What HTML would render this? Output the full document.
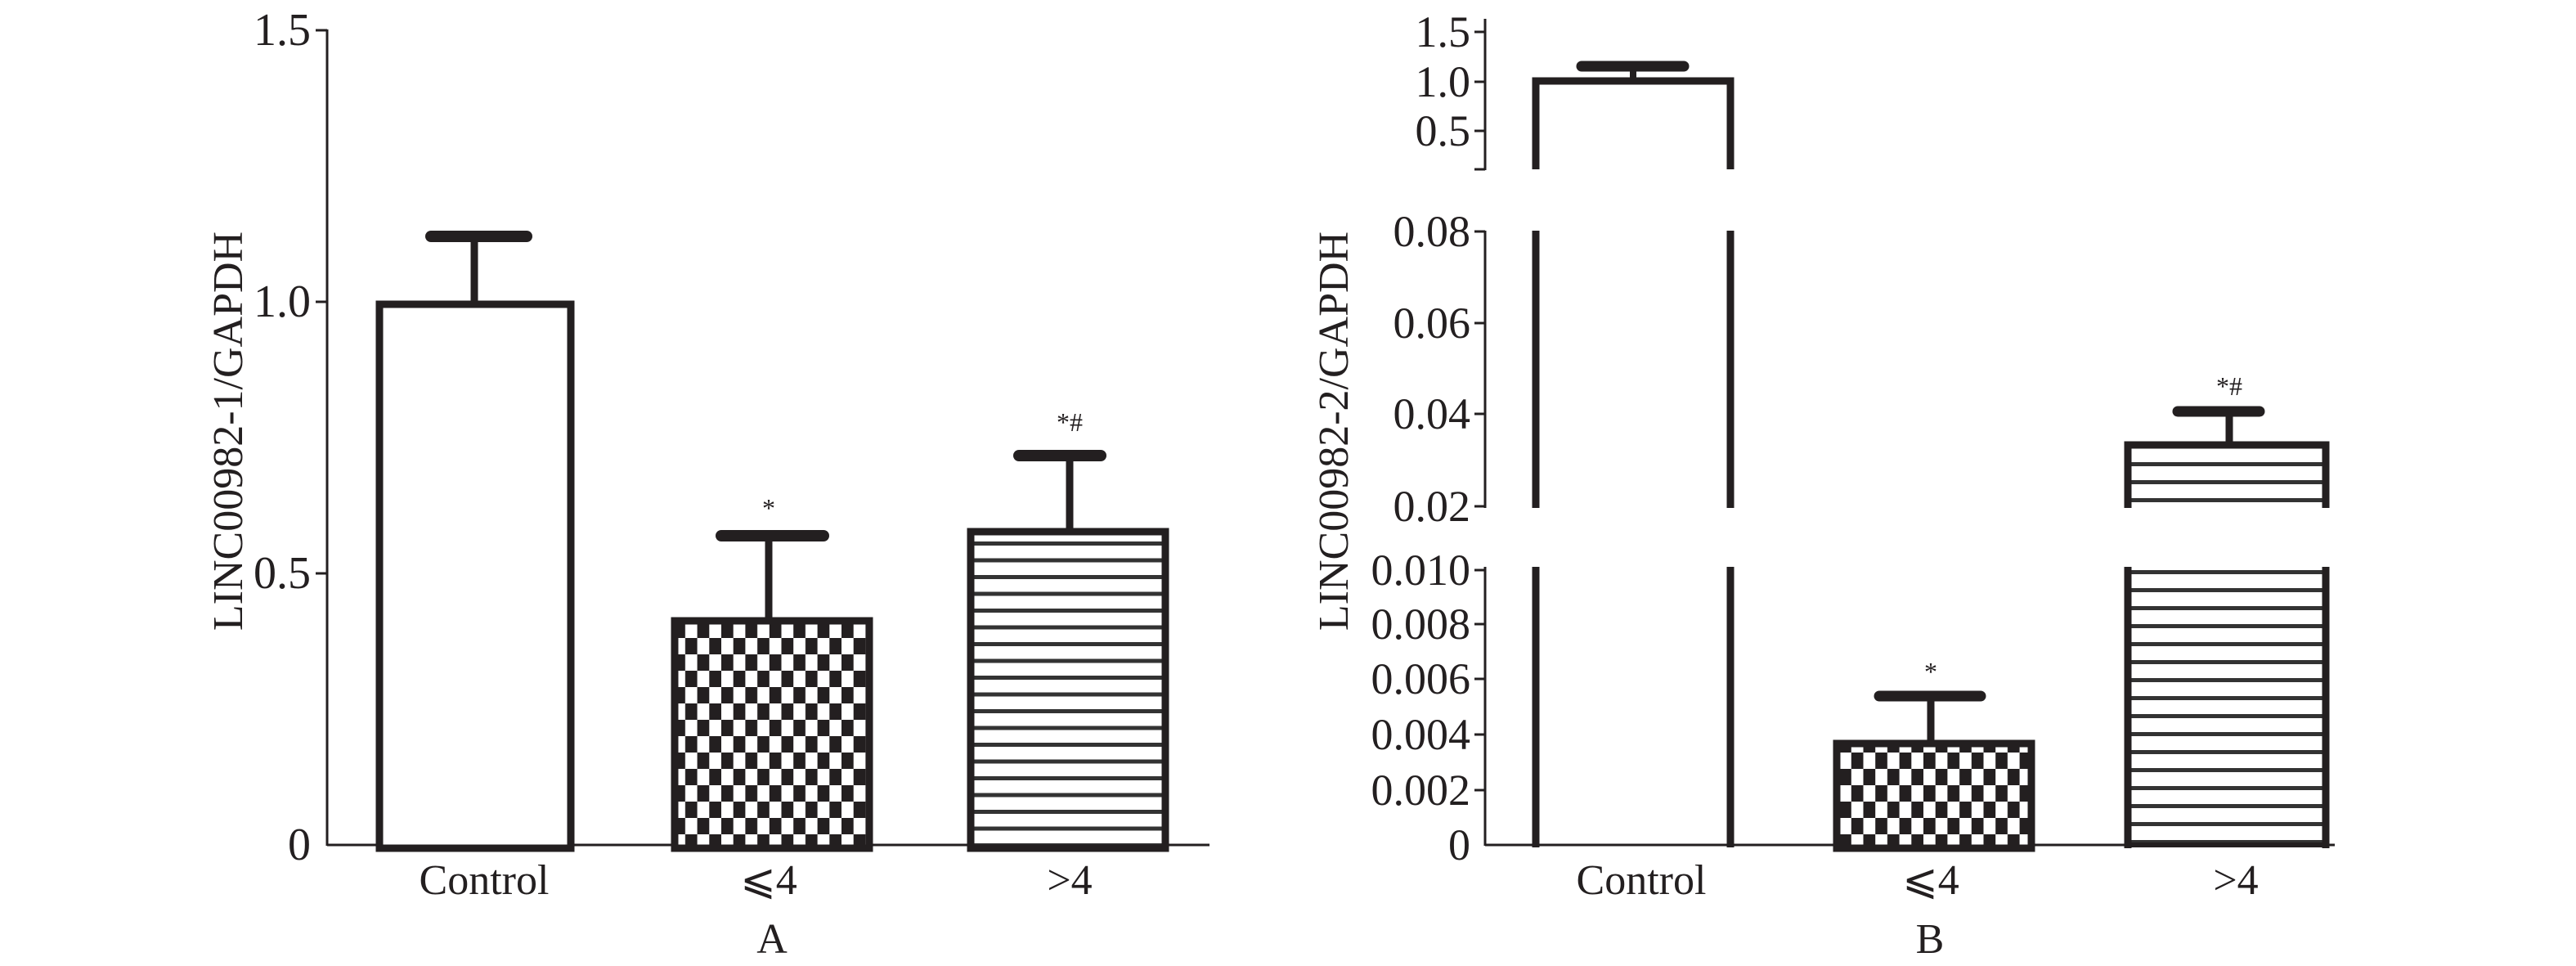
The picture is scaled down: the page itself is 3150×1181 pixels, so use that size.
<!DOCTYPE html>
<html><head><meta charset="utf-8"><style>
html,body{margin:0;padding:0;background:#fff;}
svg{display:block;}
text{font-family:"Liberation Serif",serif;fill:#231f20;}
</style></head><body>
<svg width="3150" height="1181" viewBox="0 0 3150 1181" xmlns="http://www.w3.org/2000/svg">
<defs>
<pattern id="chk" x="0" y="0" width="29.4" height="40" patternUnits="userSpaceOnUse">
<rect width="29.4" height="40" fill="#fff"/>
<rect x="0" y="0" width="14.7" height="20" fill="#231f20"/>
<rect x="14.7" y="20" width="14.7" height="20" fill="#231f20"/>
</pattern>
<pattern id="strA" x="0" y="648" width="20" height="20.5" patternUnits="userSpaceOnUse">
<rect width="20" height="20.5" fill="#fff"/>
<rect y="14" width="20" height="5" fill="#333"/>
</pattern>
<pattern id="strB" x="0" y="0" width="20" height="22" patternUnits="userSpaceOnUse">
<rect width="20" height="22" fill="#fff"/>
<rect y="15" width="20" height="5" fill="#333"/>
</pattern>
</defs>
<g stroke="#231f20" fill="none">
<!-- Panel A axes -->
<line x1="400" y1="36" x2="400" y2="1034" stroke-width="3"/>
<line x1="400" y1="1033" x2="1479" y2="1033" stroke-width="3"/>
<line x1="386" y1="37" x2="400" y2="37" stroke-width="3"/>
<line x1="386" y1="369" x2="400" y2="369" stroke-width="3"/>
<line x1="386" y1="701" x2="400" y2="701" stroke-width="3"/>
<!-- A bars -->
<rect x="464" y="372" width="234" height="665" fill="#fff" stroke-width="9"/>
<line x1="580" y1="289" x2="580" y2="370" stroke-width="9"/>
<line x1="527" y1="289" x2="644" y2="289" stroke-width="14" stroke-linecap="round"/>
<rect x="825" y="759" width="238" height="278" fill="url(#chk)" stroke-width="9"/>
<line x1="940" y1="655" x2="940" y2="757" stroke-width="9"/>
<line x1="882" y1="655" x2="1007" y2="655" stroke-width="14" stroke-linecap="round"/>
<rect x="1187" y="650" width="238" height="387" fill="url(#strA)" stroke-width="9"/>
<line x1="1308" y1="557" x2="1308" y2="648" stroke-width="9"/>
<line x1="1246" y1="557" x2="1346" y2="557" stroke-width="14" stroke-linecap="round"/>

<!-- Panel B axes -->
<line x1="1816" y1="23" x2="1816" y2="208" stroke-width="3"/>
<line x1="1803" y1="39" x2="1816" y2="39" stroke-width="3"/>
<line x1="1803" y1="100" x2="1816" y2="100" stroke-width="3"/>
<line x1="1803" y1="160" x2="1816" y2="160" stroke-width="3"/>
<line x1="1803" y1="207" x2="1816" y2="207" stroke-width="3"/>
<line x1="1816" y1="282" x2="1816" y2="621" stroke-width="3"/>
<line x1="1803" y1="283" x2="1816" y2="283" stroke-width="3"/>
<line x1="1803" y1="395" x2="1816" y2="395" stroke-width="3"/>
<line x1="1803" y1="506" x2="1816" y2="506" stroke-width="3"/>
<line x1="1803" y1="619" x2="1816" y2="619" stroke-width="3"/>
<line x1="1816" y1="693" x2="1816" y2="1034" stroke-width="3"/>
<line x1="1803" y1="697" x2="1816" y2="697" stroke-width="3"/>
<line x1="1803" y1="763" x2="1816" y2="763" stroke-width="3"/>
<line x1="1803" y1="830" x2="1816" y2="830" stroke-width="3"/>
<line x1="1803" y1="898" x2="1816" y2="898" stroke-width="3"/>
<line x1="1803" y1="966" x2="1816" y2="966" stroke-width="3"/>
<line x1="1816" y1="1033" x2="2855" y2="1033" stroke-width="3"/>
<!-- B control bar -->
<path d="M1878 207 V99 H2116 V207" stroke-width="9"/>
<line x1="1997" y1="81" x2="1997" y2="97" stroke-width="8"/>
<line x1="1934" y1="81" x2="2059" y2="81" stroke-width="13" stroke-linecap="round"/>
<line x1="1878" y1="282" x2="1878" y2="621" stroke-width="9"/>
<line x1="2116" y1="282" x2="2116" y2="621" stroke-width="9"/>
<line x1="1878" y1="693" x2="1878" y2="1036" stroke-width="9"/>
<line x1="2116" y1="693" x2="2116" y2="1036" stroke-width="9"/>
<!-- B bar2 -->
<rect x="2246" y="909" width="238" height="128" fill="url(#chk)" stroke-width="9"/>
<line x1="2361" y1="851" x2="2361" y2="907" stroke-width="9"/>
<line x1="2298" y1="851" x2="2422" y2="851" stroke-width="13" stroke-linecap="round"/>
<!-- B bar3 -->
<rect x="2602" y="544" width="242" height="77" fill="url(#strB)" stroke="none"/>
<path d="M2602 621 V544 H2844 V621" stroke-width="9"/>
<line x1="2726" y1="503" x2="2726" y2="542" stroke-width="9"/>
<line x1="2663" y1="503" x2="2763" y2="503" stroke-width="13" stroke-linecap="round"/>
<rect x="2602" y="693" width="242" height="344" fill="url(#strB)" stroke="none"/>
<line x1="2602" y1="693" x2="2602" y2="1037" stroke-width="9"/>
<line x1="2844" y1="693" x2="2844" y2="1037" stroke-width="9"/>
<line x1="2602" y1="1033" x2="2844" y2="1033" stroke-width="6"/>
</g>
<!-- text A -->
<g font-size="56" text-anchor="end">
<text x="380" y="55">1.5</text>
<text x="380" y="387">1.0</text>
<text x="380" y="719">0.5</text>
<text x="380" y="1051">0</text>
</g>
<text transform="translate(296,527) rotate(-90)" font-size="52" text-anchor="middle">LINC00982-1/GAPDH</text>
<g font-size="52" text-anchor="middle">
<text x="592" y="1093">Control</text>
<text x="940" y="1093">⩽4</text>
<text x="1308" y="1093">&gt;4</text>
<text x="944" y="1165">A</text>
<text x="940" y="632" font-size="32">*</text>
<text x="1308" y="527" font-size="32">*#</text>
</g>
<!-- text B -->
<g font-size="54" text-anchor="end">
<text x="1798" y="57">1.5</text>
<text x="1798" y="118">1.0</text>
<text x="1798" y="178">0.5</text>
<text x="1798" y="301">0.08</text>
<text x="1798" y="413">0.06</text>
<text x="1798" y="524">0.04</text>
<text x="1798" y="637">0.02</text>
<text x="1798" y="715">0.010</text>
<text x="1798" y="781">0.008</text>
<text x="1798" y="848">0.006</text>
<text x="1798" y="916">0.004</text>
<text x="1798" y="984">0.002</text>
<text x="1798" y="1051">0</text>
</g>
<text transform="translate(1648,527) rotate(-90)" font-size="52" text-anchor="middle">LINC00982-2/GAPDH</text>
<g font-size="52" text-anchor="middle">
<text x="2007" y="1093">Control</text>
<text x="2361" y="1093">⩽4</text>
<text x="2734" y="1093">&gt;4</text>
<text x="2360" y="1165">B</text>
<text x="2361" y="832" font-size="32">*</text>
<text x="2726" y="483" font-size="32">*#</text>
</g>
</svg>
</body></html>
